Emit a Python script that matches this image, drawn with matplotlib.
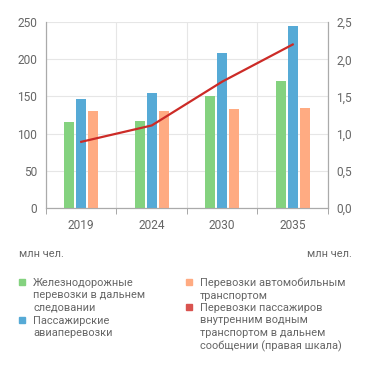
import numpy as np
import matplotlib
matplotlib.use("Agg")
import matplotlib.pyplot as plt

plt.rcParams['font.family'] = ['Roboto', 'DejaVu Sans']

years = ['2019', '2024', '2030', '2035']
rail = [116, 117, 151, 171]
air = [147, 155, 209, 245]
road = [130, 131, 133, 134]
water = [0.89, 1.11, 1.70, 2.20]

left_ticks = [0, 50, 100, 150, 200, 250]
right_ticks = ['0,0', '0,5', '1,0', '1,5', '2,0', '2,5']

c_rail = '#84d27f'
c_air = '#56aad6'
c_road = '#ffab82'
c_water = '#cc2b27'
c_water_leg = '#d9534f'
txt = '#666666'
grid = '#e6e6e6'

fig = plt.figure(figsize=(3.71, 3.70), dpi=100)
ax = fig.add_axes([0.124, 0.438, 0.760, 0.502])
x = np.arange(len(years))
w = 0.14
ax.bar(x - 0.17, rail, w, color=c_rail, zorder=3)
ax.bar(x, air, w, color=c_air, zorder=3)
ax.bar(x + 0.17, road, w, color=c_road, zorder=3)

ax.set_xlim(-0.5, 3.5)
ax.set_ylim(0, 250)
ax.set_yticks(left_ticks)
ax.set_xticks(x)
ax.set_xticklabels(years)
ax.set_xticks(np.arange(-0.5, 4.0, 1.0), minor=True)
ax.tick_params(axis='x', which='major', length=0, pad=8, colors=txt, labelsize=8.6)
ax.tick_params(axis='x', which='minor', length=4, color='#999999')
ax.tick_params(axis='y', length=0, pad=6.5, colors=txt, labelsize=8.6)
ax.grid(axis='y', color=grid, lw=0.8, zorder=0)
ax.grid(axis='x', which='minor', color=grid, lw=0.8, zorder=0)
ax.spines['top'].set_visible(False)
for s in ['left', 'right', 'bottom']:
    ax.spines[s].set_color('#aaaaaa')
    ax.spines[s].set_linewidth(0.8)

ax2 = ax.twinx()
ax2.plot(x, water, color=c_water, lw=1.6, zorder=4)
ax2.set_ylim(0, 2.5)
ax2.set_yticks(np.arange(0, 2.6, 0.5))
ax2.set_yticklabels(right_ticks)
ax2.tick_params(axis='y', length=0, pad=6, colors=txt, labelsize=8.6)
ax2.spines['top'].set_visible(False)
for s in ['left', 'right', 'bottom']:
    ax2.spines[s].set_color('#aaaaaa')
    ax2.spines[s].set_linewidth(0.8)

fs = 7.9
fig.text(19 / 371, 1 - 254 / 370, 'млн чел.', fontsize=fs, color=txt, va='center')
fig.text(352 / 371, 1 - 254 / 370, 'млн чел.', fontsize=fs, color=txt, va='center', ha='right')

legend_items = [
    (19, 282, c_rail, 'Железнодорожные\nперевозки в дальнем\nследовании'),
    (19, 319.5, c_air, 'Пассажирские\nавиаперевозки'),
    (186, 282, c_road, 'Перевозки автомобильным\nтранспортом'),
    (186, 307, c_water_leg, 'Перевозки пассажиров\nвнутренним водным\nтранспортом в дальнем\nсообщении (правая шкала)'),
]
for lx, ly, col, label in legend_items:
    fig.patches.append(plt.Rectangle((lx / 371, 1 - (ly + 3) / 370), 6 / 371, 6 / 370,
                                     transform=fig.transFigure, color=col))
    fig.text((lx + 14) / 371, 1 - (ly - 4) / 370, label, fontsize=fs, color=txt,
             va='top', linespacing=1.29)

fig.savefig('out.png', dpi=100)
